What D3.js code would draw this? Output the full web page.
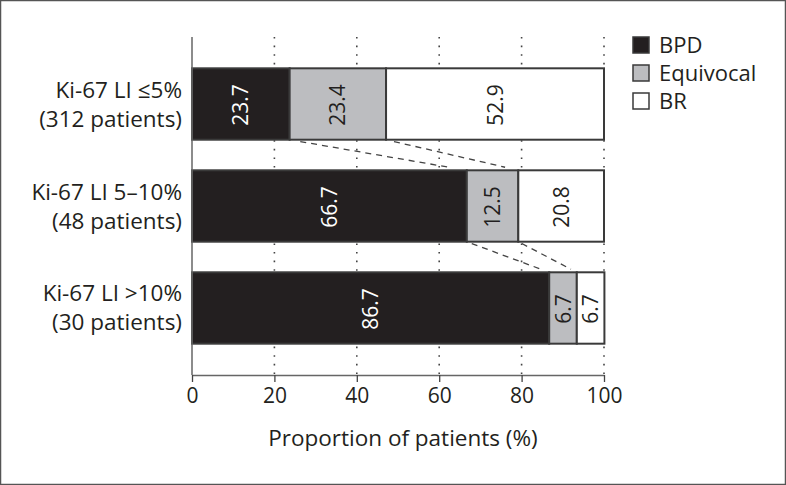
<!DOCTYPE html>
<html>
<head>
<meta charset="utf-8">
<script src="https://cdn.jsdelivr.net/npm/d3@7"></script>
<style>
  html, body { margin: 0; padding: 0; background: #fff; }
  svg { display: block; }
  text { font-family: "Open Sans", "Noto Sans", sans-serif; }
</style>
</head>
<body>
<svg id="chart" width="786" height="485"></svg>
<script>
const categories = ["Ki-67 LI \u22645%|(312 patients)", "Ki-67 LI 5\u201310%|(48 patients)", "Ki-67 LI >10%|(30 patients)"];
const seriesNames = ["BPD", "Equivocal", "BR"];
const bpd = [23.7, 66.7, 86.7];
const equivocal = [23.4, 12.5, 6.7];
const br = [52.9, 20.8, 6.7];
const xTicks = [0, 20, 40, 60, 80, 100];
const xTitle = "Proportion of patients (%)";

const colors = ["#231f20", "#bcbdc0", "#ffffff"];
const textColors = ["#ffffff", "#231f20", "#231f20"];

(function () {
const svg = d3.select("#chart");
const W = 786, H = 485;
svg.append("rect").attr("x", 0.5).attr("y", 0.5).attr("width", W - 1).attr("height", H - 1)
  .attr("fill", "#fff").attr("stroke", "#555").attr("stroke-width", 1.5);

const mLeft = 192, mRight = 604, mTop = 37, mBottom = 375;
const x = d3.scaleLinear().domain([0, 100]).range([mLeft, mRight]);
const y = d3.scaleBand().domain(categories).range([mTop, mBottom]).paddingInner(0.3).paddingOuter(0.307);

const stackData = categories.map((c, i) => ({ cat: c, BPD: bpd[i], Equivocal: equivocal[i], BR: br[i] }));
const stacked = d3.stack().keys(seriesNames)(stackData);

// gridlines
svg.append("g").selectAll("line").data(xTicks.filter(t => t > 0)).join("line")
  .attr("x1", d => x(d)).attr("x2", d => x(d))
  .attr("y1", mTop).attr("y2", mBottom)
  .attr("stroke", "#444").attr("stroke-width", 1.6)
  .attr("stroke-dasharray", "1.6,7");

// dashed connectors between cumulative boundaries
const conn = svg.append("g");
for (let i = 0; i < categories.length - 1; i++) {
  for (let k = 0; k < 2; k++) {
    const x1 = x(stacked[k][i][1]), y1 = y(categories[i]) + y.bandwidth();
    const x2 = x(stacked[k][i + 1][1]), y2 = y(categories[i + 1]);
    const t0 = 0.06, t1 = 0.9;
    conn.append("line")
      .attr("x1", x1 + (x2 - x1) * t0).attr("y1", y1 + (y2 - y1) * t0)
      .attr("x2", x1 + (x2 - x1) * t1).attr("y2", y1 + (y2 - y1) * t1)
      .attr("stroke", "#444").attr("stroke-width", 1.3)
      .attr("stroke-dasharray", "6,5");
  }
}

// bars
stacked.forEach((s, k) => {
  const g = svg.append("g");
  g.selectAll("rect").data(s).join("rect")
    .attr("x", d => x(d[0])).attr("width", d => x(d[1]) - x(d[0]))
    .attr("y", d => y(d.data.cat)).attr("height", y.bandwidth())
    .attr("fill", colors[k]).attr("stroke", "#3a3a3a").attr("stroke-width", 2);
  g.selectAll("text").data(s).join("text")
    .attr("transform", d => `translate(${(x(d[0]) + x(d[1])) / 2 + 7.5},${y(d.data.cat) + y.bandwidth() / 2 + 1}) rotate(-90)`)
    .attr("text-anchor", "middle")
    .attr("fill", textColors[k])
    .attr("font-size", 21)
    .text(d => (d[1] - d[0]).toFixed(1));
});

// axes lines
svg.append("line").attr("x1", mLeft).attr("x2", mLeft).attr("y1", mTop).attr("y2", mBottom)
  .attr("stroke", "#666").attr("stroke-width", 1.5);
const xAxis = d3.axisBottom(x).tickValues(xTicks).tickSize(7).tickSizeOuter(0).tickPadding(6);
const gx = svg.append("g").attr("transform", `translate(0,${mBottom})`).call(xAxis);
gx.select(".domain").attr("stroke", "#666").attr("stroke-width", 1.5);
gx.selectAll(".tick line").attr("stroke", "#444").attr("stroke-width", 1.3);
gx.selectAll(".tick text").attr("font-size", 21).attr("fill", "#231f20")
  .attr("font-family", "'Open Sans', 'Noto Sans', sans-serif");

svg.append("text").attr("x", (mLeft + mRight) / 2 + 5).attr("y", 446)
  .attr("text-anchor", "middle").attr("font-size", 22.5).attr("fill", "#231f20").text(xTitle);

// y labels
const yl = svg.append("g");
categories.forEach(c => {
  const parts = c.split("|");
  const cy = y(c) + y.bandwidth() / 2;
  parts.forEach((p, j) => {
    yl.append("text").attr("x", 182).attr("y", cy - 14.5 + j * 29 + 8)
      .attr("text-anchor", "end").attr("font-size", 22.5).attr("fill", "#231f20").text(p);
  });
});

// legend
const lg = svg.append("g");
seriesNames.forEach((n, i) => {
  const ly = 37 + i * 28;
  lg.append("rect").attr("x", 633).attr("y", ly).attr("width", 16).attr("height", 16)
    .attr("fill", colors[i]).attr("stroke", "#3a3a3a").attr("stroke-width", 1.5);
  lg.append("text").attr("x", 659).attr("y", ly + 16).attr("font-size", 22)
    .attr("fill", "#231f20").text(n);
});
})();
</script>
</body>
</html>
